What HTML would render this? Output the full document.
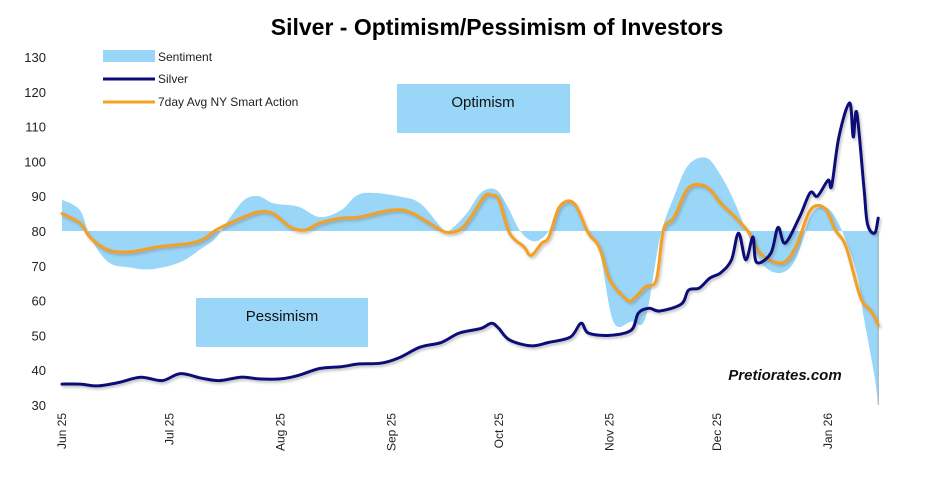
<!DOCTYPE html>
<html><head><meta charset="utf-8"><style>
body{margin:0;background:#fff;width:945px;height:495px;overflow:hidden;font-family:"Liberation Sans",Arial,sans-serif}
</style></head><body>
<svg width="945" height="495" viewBox="0 0 945 495">
<defs><filter id="sh" x="-5%" y="-5%" width="110%" height="120%"><feDropShadow dx="1.5" dy="2" stdDeviation="1.2" flood-color="#777" flood-opacity="0.45"/></filter></defs>
<text x="497" y="35" text-anchor="middle" font-size="23" font-weight="bold" fill="#000">Silver - Optimism/Pessimism  of Investors</text>
<g id="yaxis"></g>
<g id="xaxis"></g>
<g id="plot"></g>
<rect x="397" y="84" width="173" height="49" fill="#99d6f7"/>
<text x="483" y="107" text-anchor="middle" font-size="15" fill="#111">Optimism</text>
<rect x="196" y="298" width="172" height="49" fill="#99d6f7"/>
<text x="282" y="321" text-anchor="middle" font-size="15" fill="#111">Pessimism</text>
<g>
<rect x="103" y="50" width="52" height="12" fill="#99d6f7"/>
<text x="158" y="61" font-size="12" fill="#222">Sentiment</text>
<line x1="103" y1="79" x2="155" y2="79" stroke="#0b0b7a" stroke-width="3"/>
<text x="158" y="83" font-size="12" fill="#222">Silver</text>
<line x1="103" y1="102" x2="155" y2="102" stroke="#f4a020" stroke-width="3"/>
<text x="158" y="106" font-size="12" fill="#222">7day Avg NY Smart Action</text>
</g>
<text x="785" y="380" text-anchor="middle" font-size="15" font-weight="bold" font-style="italic" fill="#111">Pretiorates.com</text>
</svg>
<script>
const yTicks=[30,40,50,60,70,80,90,100,110,120,130];
const xTickLabels=["Jun 25","Jul 25","Aug 25","Sep 25","Oct 25","Nov 25","Dec 25","Jan 26"];
const xTickDays=[0,30,61,92,122,153,183,214];
const baseline=80;
const sentDays=[0,5,8,13,19,25,33,39,43,47,51,55,59,66,72,78,82,86,94,100,106,108,113,117,121,124,128,132,136,139,143,147,150,154,159,163,167,171,175,180,184,188,192,196,201,205,209,213,217,222,224,227,228];
const sentVals=[89,86,78,71,69.5,69,71,75,78,84,89,90,88,87,84,86,90,91,90,88,81,80,85,91,92,88,80,77,80,87,88,79,75,54,54,55,78,90,99,101,96,88,78,70,68,72,84,87,82,68,55,38,30];
const avgDays=[0,5,8,13,19,27,36,40,43,50,55,59,64,68,72,78,83,92,97,103,107,111,114,118,120,122,125,129,131,134,136,139,143,147,150,153,157,159,163,166,168,171,175,180,184,188,192,195,201,205,209,213,216,219,223,226,228];
const avgVals=[85,82.3,78,74.5,74,75.5,76.5,78,80.3,83.7,85.5,85,81,80.3,82.3,83.7,84,86,85.5,82,79.7,80.3,83.7,90,90.3,89,79.4,75.5,73,76.5,78.3,87,88,79.4,75.5,66,61,60,64,66,80.3,84,92.4,92.7,88,84,79.4,73.6,70.8,75.5,86,86.6,80.3,75.5,61,57,53];
const silverDays=[0,5,10,16,22,28,33,39,44,50,55,61,66,72,78,83,89,94,100,106,111,117,120,122,125,131,136,142,145,147,153,159,161,164,167,173,175,178,181,184,187,189,191,193,194,198,200,202,206,209,211,214,215,217,220,221,222,224,225,227,228];
const silverVals=[36,36,35.5,36.5,38,37,39,37.7,37,38,37.5,37.5,38.5,40.5,41,41.8,42,43.5,46.6,48,50.7,52,53.5,52,48.7,47,48,49.5,53.5,50.7,50,51.5,56.4,57.8,57,59,63,63.6,66.5,68,71.7,79.4,71.7,78.3,71,73.6,81,76.5,84,91,90,94.6,93,107,116.8,107,114,92.6,82,79.4,83.7];
const NS="http://www.w3.org/2000/svg";
const X0=62,PX=3.58,Y80=231,PY=3.48;
function xs(d){return X0+d*PX;}
function ys(v){return Y80-(v-80)*PY;}
function mk(tag,attrs,parent){const e=document.createElementNS(NS,tag);for(const k in attrs)e.setAttribute(k,attrs[k]);parent.appendChild(e);return e;}
function smooth(pts){
 let p=`M${pts[0][0].toFixed(1)},${pts[0][1].toFixed(1)}`;
 for(let i=0;i<pts.length-1;i++){
  const p0=pts[Math.max(0,i-1)],p1=pts[i],p2=pts[i+1],p3=pts[Math.min(pts.length-1,i+2)];
  const c1x=p1[0]+(p2[0]-p0[0])/6,c1y=p1[1]+(p2[1]-p0[1])/6;
  const c2x=p2[0]-(p3[0]-p1[0])/6,c2y=p2[1]-(p3[1]-p1[1])/6;
  p+=` C${c1x.toFixed(1)},${c1y.toFixed(1)} ${c2x.toFixed(1)},${c2y.toFixed(1)} ${p2[0].toFixed(1)},${p2[1].toFixed(1)}`;
 }
 return p;
}
const ya=document.getElementById('yaxis'),xa=document.getElementById('xaxis'),plot=document.getElementById('plot');
yTicks.forEach(v=>{const t=mk('text',{x:46,y:ys(v)+5,'text-anchor':'end','font-size':13,fill:'#222'},ya);t.textContent=v;

});
xTickLabels.forEach((l,i)=>{const x=xs(xTickDays[i])+4;const t=mk('text',{x:0,y:0,transform:`translate(${x},413) rotate(-90)`,'text-anchor':'end','font-size':12,fill:'#222'},xa);t.textContent=l;

});
const sPts=sentDays.map((dd,i)=>[xs(dd),ys(sentVals[i])]);
let d=smooth(sPts);
d+=` L${xs(sentDays[sentDays.length-1])},${ys(baseline)} L${xs(sentDays[0])},${ys(baseline)} Z`;
const area=mk('path',{d:d,fill:'#99d6f7',stroke:'none'},plot);


const edge=mk('line',{x1:xs(228),x2:xs(228),y1:ys(baseline),y2:ys(30),stroke:'#8ab',"stroke-width":1},plot);


function line(days,vals,color,name){
 const pts=days.map((dd,i)=>[xs(dd),ys(vals[i])]);
 const e=mk('path',{d:smooth(pts),fill:'none',stroke:color,'stroke-width':3,'stroke-linejoin':'round','stroke-linecap':'round',filter:'url(#sh)'},plot);
 
 
}
line(avgDays,avgVals,'#f4a020','avg-smart-action-line');
line(silverDays,silverVals,'#0b0b7a','silver-line');
</script>
</body></html>
